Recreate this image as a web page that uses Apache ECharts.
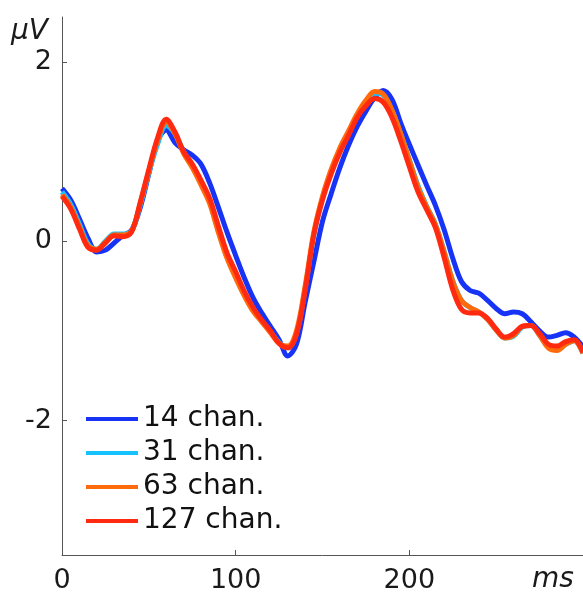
<!DOCTYPE html>
<html>
<head>
<meta charset="utf-8">
<script src="https://cdn.jsdelivr.net/npm/echarts@6/dist/echarts.min.js"></script>
<style>
  html, body { margin: 0; padding: 0; background: #fff; }
  #chart { width: 583px; height: 594px; }
</style>
</head>
<body>
<div id="chart"></div>
<script>
// Time axis (ms) shared by all traces
var timeMs = [0,5,10,15,20,25,30,35,40,45,50,55,60,65,70,75,80,85,90,95,
  100,105,110,115,120,125,130,135,140,145,150,155,160,165,170,175,180,185,190,195,
  200,205,210,215,220,225,230,235,240,245,250,255,260,265,270,275,280,285,290,295,300];

// Averaged potential (µV) for each channel count
var chan14 = [0.59,0.46,0.25,0.03,-0.12,-0.10,-0.02,0.06,0.12,0.37,0.75,1.12,1.24,1.10,1.02,0.96,0.86,0.65,0.38,0.10,
  -0.16,-0.41,-0.63,-0.80,-0.95,-1.10,-1.28,-1.15,-0.68,-0.23,0.22,0.53,0.82,1.07,1.28,1.45,1.60,1.68,1.58,1.32,
  1.08,0.85,0.62,0.40,0.13,-0.19,-0.45,-0.55,-0.58,-0.66,-0.75,-0.81,-0.79,-0.81,-0.90,-1.00,-1.07,-1.05,-1.02,-1.07,-1.18];
var chan31 = [0.55,0.41,0.19,-0.03,-0.09,0.00,0.08,0.08,0.11,0.40,0.76,1.08,1.29,1.20,1.00,0.84,0.65,0.44,0.12,-0.17,
  -0.39,-0.60,-0.77,-0.89,-1.01,-1.13,-1.19,-1.03,-0.53,0.07,0.48,0.78,1.02,1.21,1.40,1.55,1.65,1.63,1.46,1.20,
  0.91,0.62,0.39,0.19,-0.11,-0.44,-0.66,-0.74,-0.79,-0.87,-0.99,-1.08,-1.06,-0.96,-0.94,-1.05,-1.18,-1.21,-1.15,-1.11,-1.25];
var chan63 = [0.52,0.38,0.16,-0.05,-0.09,-0.01,0.07,0.07,0.11,0.42,0.78,1.12,1.33,1.20,0.98,0.82,0.63,0.42,0.10,-0.19,
  -0.41,-0.61,-0.78,-0.90,-1.02,-1.14,-1.17,-1.00,-0.50,0.10,0.50,0.80,1.04,1.23,1.42,1.57,1.67,1.64,1.46,1.20,
  0.90,0.60,0.38,0.18,-0.12,-0.45,-0.66,-0.74,-0.79,-0.87,-0.99,-1.08,-1.05,-0.95,-0.94,-1.05,-1.19,-1.22,-1.15,-1.11,-1.25];
var chan127 = [0.50,0.36,0.14,-0.07,-0.10,-0.02,0.06,0.05,0.10,0.43,0.80,1.15,1.36,1.22,1.00,0.86,0.68,0.48,0.17,-0.13,
  -0.34,-0.56,-0.74,-0.88,-1.00,-1.14,-1.19,-1.04,-0.55,0.07,0.46,0.75,0.99,1.18,1.38,1.51,1.59,1.55,1.38,1.12,
  0.83,0.55,0.35,0.15,-0.18,-0.54,-0.76,-0.80,-0.80,-0.86,-0.98,-1.07,-1.03,-0.95,-0.94,-1.03,-1.15,-1.17,-1.12,-1.10,-1.24];

var seriesNames = ['14 chan.', '31 chan.', '63 chan.', '127 chan.'];
var seriesColors = ['#1733f5', '#17c3ff', '#ff6a0a', '#ff2a10'];
var seriesValues = [chan14, chan31, chan63, chan127];

var xTicks = [0, 100, 200];
var yTicks = [-2, 0, 2];

var FONT = '"DejaVu Sans", sans-serif';

function pairs(values) {
  return timeMs.map(function (t, i) { return [t, values[i]]; });
}

var chart = echarts.init(document.getElementById('chart'), null, { renderer: 'canvas' });

chart.setOption({
  animation: false,
  backgroundColor: '#ffffff',
  grid: { left: 62, right: 0, top: 17, bottom: 37, containLabel: false },
  xAxis: {
    type: 'value',
    min: 0, max: 300,
    axisLine: { show: true, onZero: false, lineStyle: { color: '#555', width: 1 } },
    axisTick: { show: true, inside: true, length: 5, customValues: xTicks, lineStyle: { color: '#555' } },
    axisLabel: { customValues: xTicks, fontFamily: FONT, fontSize: 27, color: '#1a1a1a', margin: 12 },
    splitLine: { show: false }
  },
  yAxis: {
    type: 'value',
    min: -3.5, max: 2.5,
    axisLine: { show: true, onZero: false, lineStyle: { color: '#555', width: 1 } },
    axisTick: { show: true, inside: true, length: 5, customValues: yTicks, lineStyle: { color: '#555' } },
    axisLabel: { customValues: yTicks, fontFamily: FONT, fontSize: 27, color: '#1a1a1a', margin: 10 },
    splitLine: { show: false }
  },
  legend: {
    orient: 'vertical',
    left: 86, top: 402,
    icon: 'rect',
    itemWidth: 52, itemHeight: 4,
    itemGap: 0,
    padding: 0,
    textStyle: { fontFamily: FONT, fontSize: 28, color: '#111', lineHeight: 34 },
    data: seriesNames
  },
  graphic: [
    { type: 'text', left: 11, top: 18,
      style: { text: 'μV', font: 'italic 28px ' + FONT, fill: '#1a1a1a' } },
    { type: 'text', left: 532, top: 566,
      style: { text: 'ms', font: 'italic 28px ' + FONT, fill: '#1a1a1a' } }
  ],
  series: seriesValues.map(function (vals, i) {
    return {
      name: seriesNames[i],
      type: 'line',
      data: pairs(vals),
      smooth: 0.35,
      showSymbol: false,
      color: seriesColors[i],
      lineStyle: { width: 5, color: seriesColors[i] },
      z: 2 + i
    };
  })
});
</script>
</body>
</html>
